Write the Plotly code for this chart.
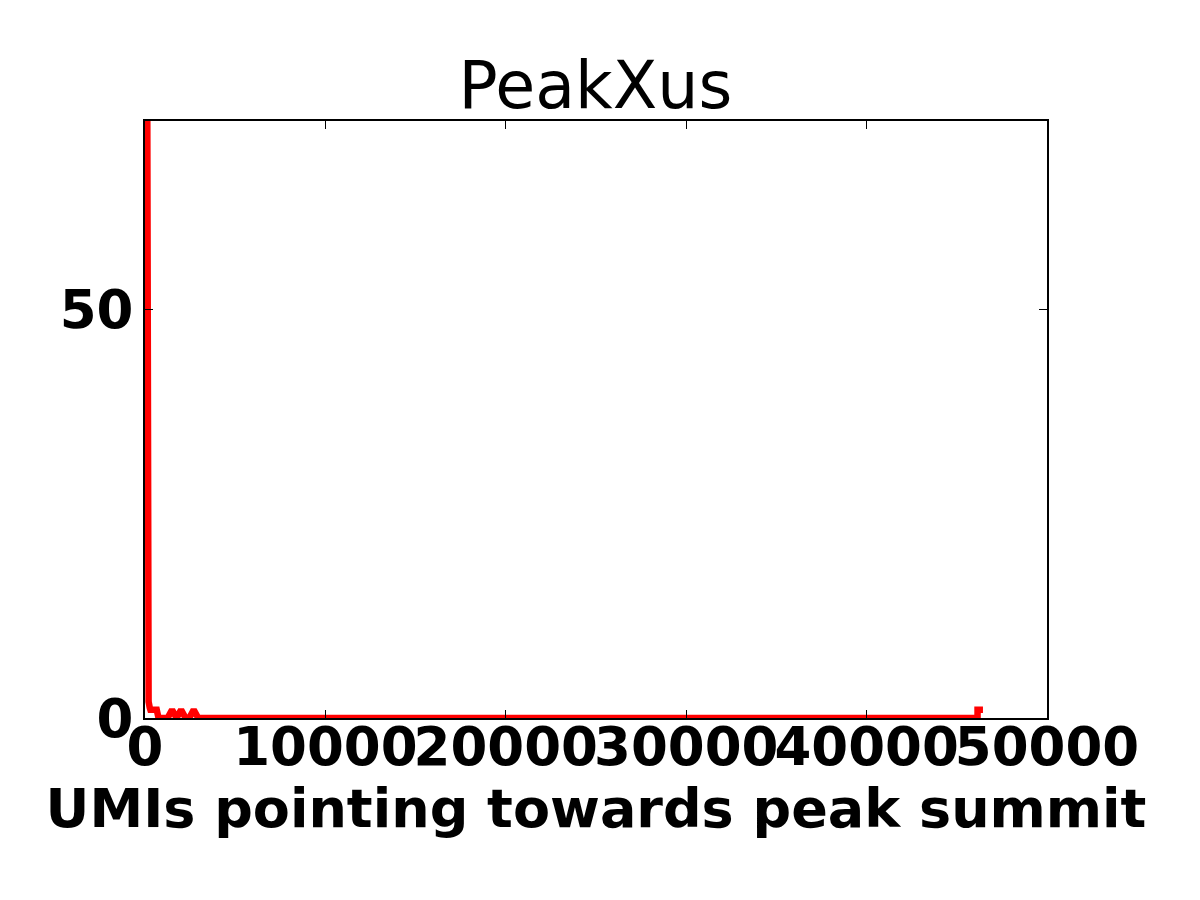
import plotly.graph_objects as go

# number of UMIs pointing towards the peak summit vs number of peaks
umis = [0, 110, 150, 200, 260, 300, 650, 750,
        1250, 1500, 1750, 2000, 2250, 2450, 2700, 2950,
        46150, 46150, 46450]
counts = [200, 5, 3, 2, 1.3, 1, 1, 0,
          0, 1, 0, 1, 0, 0, 1, 0,
          0, 1, 1]

x_ticks = [0, 10000, 20000, 30000, 40000, 50000]
x_labels = ['0', '10000', '20000', '30000', '40000', '50000']
y_ticks = [0, 50]

fig = go.Figure()
fig.add_trace(go.Scatter(
    x=umis, y=counts,
    mode='lines',
    line=dict(color='#ff0000', width=6.5),
    showlegend=False
))

axis_style = dict(
    showline=True, linecolor='black', linewidth=2,
    mirror='ticks', ticks='inside', ticklen=8, tickwidth=1, tickcolor='black',
    showgrid=False, zeroline=False, automargin=False,
    tickfont=dict(family='DejaVu Sans', size=53, color='black', weight='bold'),
)

fig.update_layout(
    width=1200, height=900,
    margin=dict(l=137, r=161, t=113, b=190),
    paper_bgcolor='white', plot_bgcolor='white',
    title=dict(text='PeakXus', x=0.4895, xanchor='center',
               y=1 - 77 / 900, yanchor='middle', yref='container',
               font=dict(family='DejaVu Sans', size=65, color='black')),
    xaxis=dict(axis_style, range=[0, 50000], tickvals=x_ticks, ticktext=x_labels,
               tickangle=0, ticklabelstandoff=-19,
               title=dict(text='UMIs pointing towards peak summit', standoff=14,
                          font=dict(family='DejaVu Sans', size=54, color='black',
                                    weight='bold'))),
    yaxis=dict(axis_style, range=[0, 73], tickvals=y_ticks, ticklabelstandoff=-1),
)

fig.write_html("out.html")
